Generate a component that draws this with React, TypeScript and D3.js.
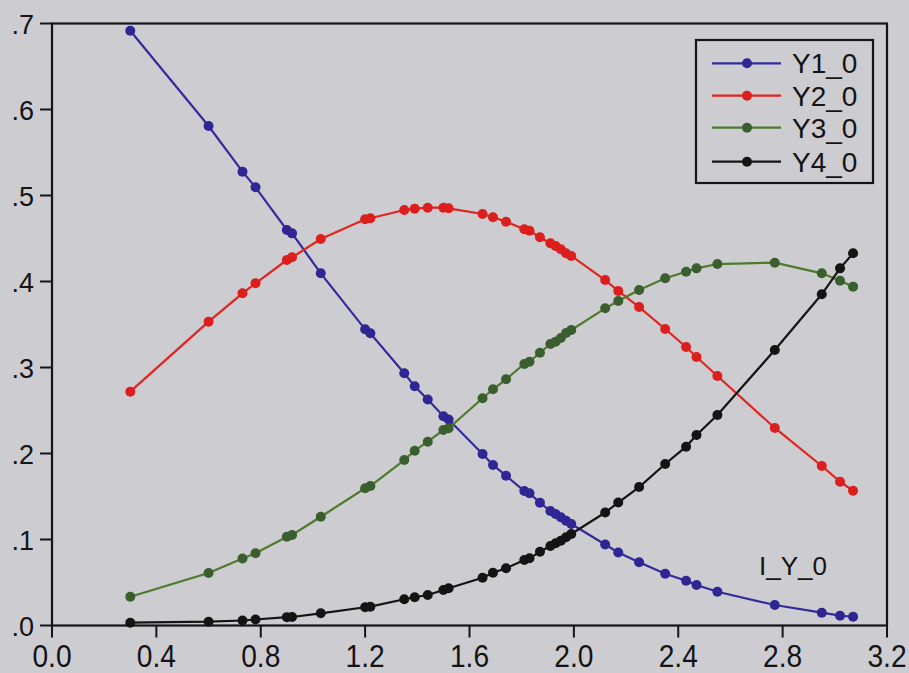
import React from "react";
import * as d3 from "d3";

const xs = [0.30, 0.60, 0.73, 0.78, 0.90, 0.92, 1.03, 1.20, 1.22, 1.35, 1.39, 1.44, 1.50, 1.52, 1.65, 1.69, 1.74, 1.81, 1.83, 1.87, 1.91, 1.93, 1.95, 1.97, 1.99, 2.12, 2.17, 2.25, 2.35, 2.43, 2.47, 2.55, 2.77, 2.95, 3.02, 3.07];

const y1 = [0.6916, 0.5808, 0.5277, 0.5095, 0.4599, 0.4560, 0.4095, 0.3444, 0.3398, 0.2933, 0.2781, 0.2628, 0.2433, 0.2395, 0.1994, 0.1866, 0.1742, 0.1564, 0.1537, 0.1428, 0.1331, 0.1297, 0.1258, 0.1219, 0.1180, 0.0942, 0.0849, 0.0736, 0.0602, 0.0521, 0.0471, 0.0393, 0.0238, 0.0149, 0.0114, 0.0102];
const y2 = [0.2719, 0.3533, 0.3863, 0.3979, 0.4250, 0.4281, 0.4494, 0.4723, 0.4735, 0.4831, 0.4847, 0.4858, 0.4858, 0.4851, 0.4785, 0.4747, 0.4695, 0.4607, 0.4591, 0.4514, 0.4444, 0.4413, 0.4374, 0.4328, 0.4297, 0.4017, 0.3890, 0.3703, 0.3448, 0.3238, 0.3122, 0.2901, 0.2297, 0.1855, 0.1672, 0.1567];
const y3 = [0.0335, 0.0610, 0.0779, 0.0840, 0.1033, 0.1052, 0.1265, 0.1595, 0.1622, 0.1924, 0.2033, 0.2137, 0.2273, 0.2293, 0.2642, 0.2747, 0.2863, 0.3041, 0.3067, 0.3172, 0.3273, 0.3300, 0.3343, 0.3401, 0.3436, 0.3688, 0.3773, 0.3901, 0.4037, 0.4114, 0.4153, 0.4203, 0.4219, 0.4095, 0.4009, 0.3940];
const y4 = [0.0033, 0.0044, 0.0058, 0.0070, 0.0097, 0.0099, 0.0142, 0.0212, 0.0219, 0.0305, 0.0328, 0.0355, 0.0413, 0.0433, 0.0556, 0.0614, 0.0665, 0.0762, 0.0781, 0.0858, 0.0924, 0.0956, 0.0986, 0.1026, 0.1064, 0.1314, 0.1430, 0.1610, 0.1878, 0.2079, 0.2215, 0.2448, 0.3203, 0.3851, 0.4153, 0.4328];

const seriesNames = ["Y1_0", "Y2_0", "Y3_0", "Y4_0"];
const seriesValues = [y1, y2, y3, y4];
const lineColors = ["#332b9c", "#e2231f", "#4f7a2c", "#141414"];
const markerColors = ["#2f2694", "#dc1f1c", "#3b5e2e", "#141414"];

const xTicks = [0.0, 0.4, 0.8, 1.2, 1.6, 2.0, 2.4, 2.8, 3.2];
const yTicks = [0.0, 0.1, 0.2, 0.3, 0.4, 0.5, 0.6, 0.7];
const xTickLabels = ["0.0", "0.4", "0.8", "1.2", "1.6", "2.0", "2.4", "2.8", "3.2"];
const yTickLabels = [".0", ".1", ".2", ".3", ".4", ".5", ".6", ".7"];
const axisTitle = "I_Y_0";

const W = 909;
const H = 673;
const left = 52, right = 887, top = 23.5, bottom = 625.5;

export default function App() {
  const x = d3.scaleLinear().domain([0, 3.2]).range([left, right]);
  const y = d3.scaleLinear().domain([0, 0.7]).range([bottom, top]);
  const line = d3.line<[number, number]>().x(d => x(d[0])).y(d => y(d[1]));
  const font = "'Liberation Sans', Arial, Helvetica, sans-serif";

  const legX = 696, legY = 40, legW = 177, legH = 143;
  const legRows = [63.3, 95.7, 127.7, 161.7];

  return (
    <svg width={W} height={H} style={{ position: "absolute", left: 0, top: 0, background: "#cdccd1" }}>
      <rect x={0} y={0} width={W} height={H} fill="#cdccd1" />
      <rect x={left} y={top} width={right - left} height={bottom - top} fill="none" stroke="#141414" strokeWidth={2.2} />
      {yTicks.map((t, i) => (
        <g key={"yt" + i}>
          <line x1={left - 12} x2={left} y1={y(t)} y2={y(t)} stroke="#141414" strokeWidth={2} />
          <text x={34} y={y(t) + 10} textAnchor="end" fontFamily={font} fontSize={27} fill="#141414">{yTickLabels[i]}</text>
        </g>
      ))}
      {xTicks.map((t, i) => (
        <g key={"xt" + i}>
          <line x1={x(t)} x2={x(t)} y1={bottom} y2={bottom + 12} stroke="#141414" strokeWidth={2} />
          <text transform={`translate(${x(t)},${667}) scale(0.88,1)`} textAnchor="middle" fontFamily={font} fontSize={32} fill="#141414">{xTickLabels[i]}</text>
        </g>
      ))}
      {seriesValues.map((vals, si) => {
        const pts: [number, number][] = xs.map((xv, i) => [xv, vals[i]]);
        return (
          <g key={"s" + si}>
            <path d={line(pts) || ""} fill="none" stroke={lineColors[si]} strokeWidth={2.2} />
            {pts.map((p, i) => (
              <circle key={i} cx={x(p[0])} cy={y(p[1])} r={5} fill={markerColors[si]} />
            ))}
          </g>
        );
      })}
      <text x={759} y={575} fontFamily={font} fontSize={26} fill="#141414">{axisTitle}</text>
      <rect x={legX} y={legY} width={legW} height={legH} fill="#cdccd1" stroke="#141414" strokeWidth={2.2} />
      {seriesNames.map((n, i) => (
        <g key={"lg" + i}>
          <line x1={712} x2={781} y1={legRows[i]} y2={legRows[i]} stroke={lineColors[i]} strokeWidth={2.2} />
          <circle cx={747} cy={legRows[i]} r={5} fill={markerColors[i]} />
          <text x={792} y={legRows[i] + 10} fontFamily={font} fontSize={28} fill="#141414">{n}</text>
        </g>
      ))}
    </svg>
  );
}
